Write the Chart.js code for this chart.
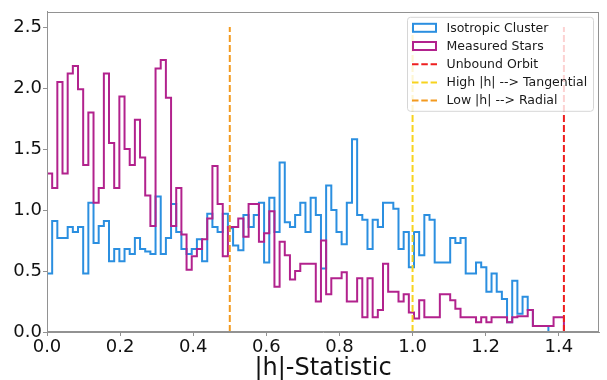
<!DOCTYPE html>
<html>
<head>
<meta charset="utf-8">
<script src="https://cdn.jsdelivr.net/npm/chart.js@4.4.0/dist/chart.umd.min.js"></script>
<style>
  html, body { margin: 0; padding: 0; background: #fff; }
  #wrap { width: 607px; height: 380px; }
</style>
</head>
<body>
<div id="wrap"><canvas id="myChart" width="607" height="380"></canvas></div>
<script>
// Histogramas (100 bins entre 0 y sqrt(2))
const histMax = 1.414;
const isoCluster = [
  0.48, 0.91, 0.77, 0.77, 0.86, 0.82, 0.86, 0.48, 1.06, 0.73,
  0.87, 0.91, 0.58, 0.68, 0.58, 0.68, 0.64, 0.77, 0.68, 0.66,
  0.64, 1.11, 0.64, 0.77, 1.05, 0.82, 0.68, 0.64, 0.68, 0.76,
  0.58, 0.97, 0.86, 0.82, 0.97, 0.85, 0.71, 0.67, 0.96, 0.86,
  0.96, 1.06, 0.57, 1.10, 0.82, 1.39, 0.90, 0.86, 0.96, 1.06,
  0.82, 1.10, 0.96, 0.52, 1.20, 1.00, 0.82, 0.72, 1.06, 1.58,
  0.96, 0.92, 0.68, 0.92, 0.86, 1.06, 1.06, 1.01, 0.68, 0.82,
  0.53, 0.82, 0.63, 0.96, 0.92, 0.57, 0.57, 0.57, 0.77, 0.73,
  0.77, 0.48, 0.48, 0.57, 0.53, 0.33, 0.48, 0.33, 0.27, 0.08,
  0.42, 0.15, 0.29, 0.18, 0.05, 0.05, 0.05, 0, 0, 0
];
const measStars = [
  1.30, 1.18, 2.05, 1.30, 2.12, 2.18, 1.99, 1.37, 1.80, 1.06,
  1.18, 2.12, 1.55, 1.18, 1.93, 1.50, 1.37, 1.74, 1.43, 1.12,
  0.87, 2.16, 2.23, 1.92, 0.87, 1.18, 0.80, 0.51, 0.62, 0.68,
  0.76, 0.93, 1.36, 1.05, 0.62, 0.86, 0.86, 0.93, 0.78, 1.05,
  1.05, 0.74, 0.81, 0.99, 0.37, 0.74, 0.63, 0.43, 0.50, 0.56,
  0.56, 0.56, 0.25, 0.75, 0.31, 0.44, 0.44, 0.49, 0.25, 0.25,
  0.44, 0.12, 0.44, 0.12, 0.18, 0.56, 0.33, 0.33, 0.25, 0.31,
  0.16, 0.11, 0.26, 0.12, 0.12, 0.12, 0.31, 0.31, 0.26, 0.19,
  0.12, 0.12, 0.12, 0.08, 0.12, 0.08, 0.12, 0.12, 0.12, 0.08,
  0.12, 0.13, 0.13, 0.18, 0.05, 0.05, 0.05, 0.05, 0.12, 0.12
];

// Lineas verticales
const unboundX = 1.414;
const highX = 1.0;
const lowX = 0.5;
const lineTop = 2.5;

// Ticks de los ejes
const xTicks = [0, 0.2, 0.4, 0.6, 0.8, 1.0, 1.2, 1.4];
const yTicks = [0, 0.5, 1.0, 1.5, 2.0, 2.5];

const fontFam = '"DejaVu Sans", sans-serif';
const colBlue = '#2b8fe0';
const colPurple = '#b2228d';
const colRed = '#ee1f1f';
const colYellow = '#f7d31e';
const colOrange = '#f39a1f';
const frameColor = '#929292';

// Convierte alturas de bins en un contorno escalonado
function stepPoints(h) {
    var w = histMax / h.length;
    var pts = [{ x: 0, y: 0 }];
    h.forEach(function (v, i) {
        pts.push({ x: i * w, y: v });
        pts.push({ x: (i + 1) * w, y: v });
    });
    pts.push({ x: h.length * w, y: 0 });
    return pts;
}

function vline(x) {
    return [{ x: x, y: 0 }, { x: x, y: lineTop }];
}

var datasets = [
    { label: 'Isotropic Cluster', data: stepPoints(isoCluster), borderColor: colBlue, borderWidth: 2, order: 4, box: true },
    { label: 'Measured Stars', data: stepPoints(measStars), borderColor: colPurple, borderWidth: 2, order: 3, box: true },
    { label: 'Unbound Orbit', data: vline(unboundX), borderColor: colRed, borderWidth: 2, borderDash: [7, 3], order: 0 },
    { label: 'High |h| --> Tangential', data: vline(highX), borderColor: colYellow, borderWidth: 2, borderDash: [7, 3], order: 1 },
    { label: 'Low |h| --> Radial', data: vline(lowX), borderColor: colOrange, borderWidth: 2, borderDash: [7, 3], order: 2 }
];
datasets.forEach(function (d) {
    d.showLine = true;
    d.pointRadius = 0;
    d.fill = false;
    d.tension = 0;
    d.borderJoinStyle = 'miter';
});

// Marco completo alrededor del area del grafico
const framePlugin = {
    id: 'frame',
    afterDatasetsDraw(chart) {
        var a = chart.chartArea, ctx = chart.ctx;
        ctx.save();
        ctx.strokeStyle = frameColor;
        ctx.lineWidth = 1;
        ctx.strokeRect(Math.round(a.left) + 0.5, Math.round(a.top) + 0.5,
            Math.round(a.right - a.left) - 1, Math.round(a.bottom - a.top) - 1);
        ctx.restore();
    }
};

// Leyenda con caja en la esquina superior derecha
const boxLegend = {
    id: 'boxLegend',
    afterDatasetsDraw(chart) {
        var a = chart.chartArea, ctx = chart.ctx;
        var x0 = a.right - 191.5, y0 = a.top + 5.5, w = 186, h = 94;
        ctx.save();
        ctx.beginPath();
        if (ctx.roundRect) ctx.roundRect(x0, y0, w, h, 3); else ctx.rect(x0, y0, w, h);
        ctx.fillStyle = 'rgba(255,255,255,0.8)';
        ctx.fill();
        ctx.strokeStyle = '#d6d6d6';
        ctx.lineWidth = 1;
        ctx.stroke();

        ctx.font = '12.5px ' + fontFam;
        ctx.textBaseline = 'middle';
        ctx.textAlign = 'left';
        chart.data.datasets.forEach(function (d, i) {
            var cy = y0 + 10.5 + i * 18.2;
            var hx = x0 + 4.5;
            ctx.strokeStyle = d.borderColor;
            ctx.lineWidth = 2;
            if (d.box) {
                ctx.setLineDash([]);
                ctx.strokeRect(hx + 1, cy - 4, 23, 8);
            } else {
                ctx.setLineDash([6.5, 2.8]);
                ctx.beginPath();
                ctx.moveTo(hx, cy);
                ctx.lineTo(hx + 25, cy);
                ctx.stroke();
                ctx.setLineDash([]);
            }
            ctx.fillStyle = '#1a1a1a';
            ctx.fillText(d.label, x0 + 39, cy + 0.5);
        });
        ctx.restore();
    }
};

var ctx = document.getElementById('myChart').getContext('2d');
var myChart = new Chart(ctx, {
    type: 'scatter',
    data: { datasets: datasets },
    options: {
        responsive: false,
        animation: false,
        devicePixelRatio: 1,
        layout: { padding: { top: 11, right: 8, left: 0, bottom: 0 } },
        plugins: {
            legend: { display: false },
            tooltip: { enabled: false }
        },
        scales: {
            x: {
                type: 'linear',
                min: 0,
                max: 1.51,
                afterBuildTicks: function (s) { s.ticks = xTicks.map(function (v) { return { value: v }; }); },
                afterFit: function (s) { s.height = 48; },
                ticks: {
                    callback: function (v) { return v.toFixed(1); },
                    font: { family: fontFam, size: 18 },
                    color: '#111',
                    padding: 1,
                    maxRotation: 0,
                    autoSkip: false
                },
                grid: { display: true, drawOnChartArea: false, drawTicks: true, tickLength: 4, color: frameColor },
                border: { display: true, color: frameColor },
                title: {
                    display: true,
                    text: '|h|-Statistic',
                    font: { family: fontFam, size: 24, lineHeight: 0.9 },
                    color: '#111',
                    padding: { top: 0, bottom: 0 }
                }
            },
            y: {
                type: 'linear',
                min: 0,
                max: 2.625,
                afterBuildTicks: function (s) { s.ticks = yTicks.map(function (v) { return { value: v }; }); },
                afterFit: function (s) { s.width = 47; },
                ticks: {
                    callback: function (v) { return v.toFixed(1); },
                    font: { family: fontFam, size: 18 },
                    color: '#111',
                    padding: 1,
                    autoSkip: false
                },
                grid: { display: true, drawOnChartArea: false, drawTicks: true, tickLength: 4, color: frameColor },
                border: { display: true, color: frameColor }
            }
        }
    },
    plugins: [framePlugin, boxLegend]
});
</script>
</body>
</html>
